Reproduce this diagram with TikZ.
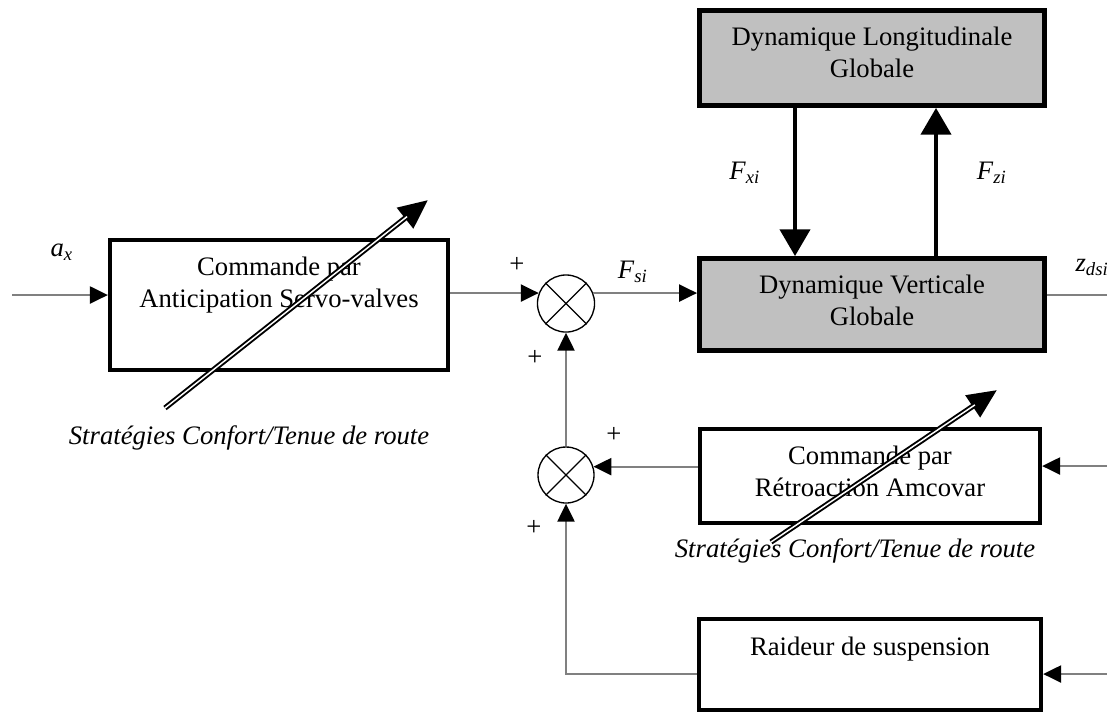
\documentclass[tikz,border=0pt]{standalone}
\usepackage{fontspec}
\setmainfont{Liberation Serif}
\usetikzlibrary{arrows.meta}
\definecolor{wire}{RGB}{128,128,128}
\definecolor{boxgray}{RGB}{192,192,192}

\begin{document}
\begin{tikzpicture}[x=0.375pt,y=-0.375pt,
  font=\fontsize{10}{12}\selectfont,
  block/.style={draw=black, line width=1.6pt, fill=white, inner sep=0pt},
  plant/.style={block, fill=boxgray, line width=1.85pt},
  lbl/.style={align=center, inner sep=0pt},
  sumj/.style={draw=black, circle, line width=0.5pt, minimum size=21.4pt, inner sep=0pt},
  wire/.style={draw=wire, line width=0.8pt},
  sig/.style={wire, -{Triangle[length=6.75pt,width=6.4pt,color=black]}},
  force/.style={draw=black, line width=1.5pt, -{Triangle[length=10pt,width=11.25pt]}},
  tune/.style={draw=black, line width=2pt, -{Triangle[length=11pt,width=9.5pt]}},
  tunecore/.style={draw=white, line width=0.55pt, shorten >=10pt},
  sign/.style={inner sep=0pt},
  strat/.style={inner sep=0pt, anchor=base, font=\fontsize{10}{12}\selectfont\itshape}
]
\useasboundingbox (0,0) rectangle (1107,713);

% blocks
\node[plant, minimum width=129.4pt, minimum height=35.6pt] (long) at (872,58) {};
\node[plant, minimum width=129.4pt, minimum height=34.5pt] (vert) at (872,304.5) {};
\node[block, minimum width=126.75pt, minimum height=48.75pt] (servo) at (279,305) {};
\node[block, minimum width=127.5pt, minimum height=35.25pt] (amc) at (870,476) {};
\node[block, minimum width=128.25pt, minimum height=34.1pt] (raid) at (870,664.5) {};

% block texts
\node[lbl] (longtxt) at (872,52.5) {Dynamique Longitudinale\\Globale};
\node[lbl] (verttxt) at (872,300) {Dynamique Verticale\\Globale};
\node[lbl] (servotxt) at (279,285) {Commande par\\Anticipation Servo-valves};
\node[lbl] (amctxt) at (870,471) {Commande par\\Rétroaction Amcovar};
\node[lbl] (raidtxt) at (870,649) {Raideur de suspension};

% summing junctions
\node[sumj] (s1) at (566,303.5) {};
\node[sumj, minimum size=21pt] (s2) at (566,475) {};
\foreach \s in {s1,s2}
  \draw[line width=0.5pt] (\s.45) -- (\s.225) (\s.135) -- (\s.315);

% free ends
\coordinate (src) at (12,295);
\coordinate (zout) at (1107,295);
\coordinate (r1) at (1107,466);
\coordinate (r2) at (1107,674);
\coordinate (xa) at (795,0);
\coordinate (xz) at (936,0);

% signal connectors
\draw[sig] (src) -- (src -| servo.west);
\draw[sig] (servo.east |- s1.159) -- (s1.159);
\draw[sig] (s1.21) -- (vert.west |- s1.21);
\draw[wire] (vert.east |- zout) -- (zout);
\draw[force] (long.south -| xa) -- (vert.north -| xa);
\draw[force] (vert.north -| xz) -- (long.south -| xz);
\draw[sig] (r1) -- (r1 -| amc.east);
\draw[sig] (amc.west |- s2.17) -- (s2.17);
\draw[sig] (s2.north) -- (s1.south);
\draw[sig] (r2) -- (r2 -| raid.east);
\draw[sig] (raid.west |- r2) -| (s2.south);

% tuning arrows
\coordinate (t1) at (165,408);
\coordinate (h1) at (428,200);
\coordinate (t2) at (771,542);
\coordinate (h2) at (997,390);
\draw[tune] (t1) -- (h1);
\draw[tunecore] (t1) -- (h1);
\draw[tune] (t2) -- (h2);
\draw[tunecore] (t2) -- (h2);
\node[strat] (st1) at (249,444) {Stratégies Confort/Tenue de route};
\node[strat] (st2) at (855,557) {Stratégies Confort/Tenue de route};

% signal labels
\node (ax) at (62,252) {\textit{a\textsubscript{x}}};
\node (fsi) at (633,272) {\textit{F\textsubscript{si}}};
\node (fxi) at (745,173) {\textit{F\textsubscript{xi}}};
\node (fzi) at (992,173) {\textit{F\textsubscript{zi}}};
\node[anchor=west, inner sep=0pt] (zdsi) at (1075,267) {\textit{z\textsubscript{dsi}}};

% signs
\node[sign] (p1) at (517,265) {+};
\node[sign] (p2) at (535,358) {+};
\node[sign] (p3) at (614,435) {+};
\node[sign] (p4) at (534,528) {+};
\end{tikzpicture}
\end{document}
